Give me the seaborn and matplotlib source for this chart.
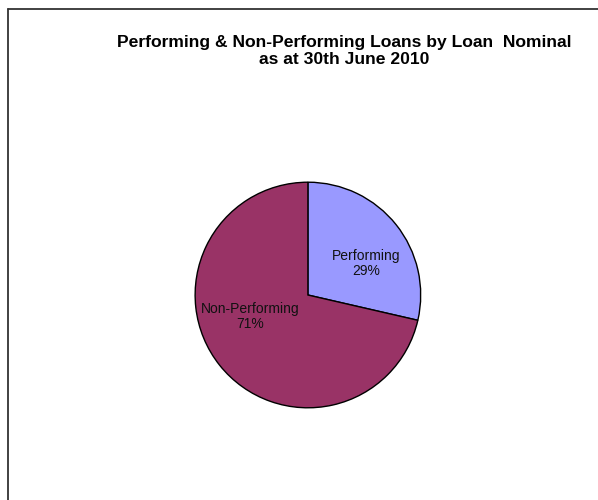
import seaborn as sns
import matplotlib.pyplot as plt
from matplotlib.lines import Line2D

# data
categories = ['Performing', 'Non-Performing']
shares = [28.6, 71.4]
colors = ['#9999FF', '#993366']

sns.set_theme(style='white')
plt.rcParams['font.family'] = ['Liberation Sans', 'DejaVu Sans']

fig = plt.figure(figsize=(5.98, 5.0), dpi=100)
fig.patch.set_facecolor('white')

# pie axes (square, centred where the original chart sits)
ax = fig.add_axes([0.3244, 0.182, 0.381, 0.456])
wedges, texts, autotexts = ax.pie(
    shares, colors=colors, startangle=90, counterclock=False,
    labels=None, autopct='%.0f%%', pctdistance=0.57,
    wedgeprops=dict(edgecolor='black', linewidth=1.0),
    textprops=dict(fontsize=10, color='#111111'))
ax.set_aspect('equal')
ax.set_xlim(-1.01, 1.01)
ax.set_ylim(-1.01, 1.01)

# put category name above the percentage, like the Excel labels
label_pos = [(0.52, 0.28), (-0.51, -0.19)]
for t, name, pos in zip(autotexts, categories, label_pos):
    t.set_text(f'{name}\n{t.get_text()}')
    t.set_position(pos)
    t.set_ha('center')
    t.set_va('center')
    t.set_linespacing(1.15)

fig.text(0.575, 0.898, 'Performing & Non-Performing Loans by Loan  Nominal\nas at 30th June 2010',
         ha='center', va='center', fontsize=12.6, fontweight='bold', color='black',
         linespacing=1.2)

# chart frame (only top and left edges fall inside the image)
fig.add_artist(Line2D([8 / 598, 1.0], [1 - 9 / 500, 1 - 9 / 500], color='#333333', linewidth=1.3))
fig.add_artist(Line2D([8 / 598, 8 / 598], [0.0, 1 - 9 / 500], color='#333333', linewidth=1.3))

fig.savefig('out.png', dpi=100, facecolor='white')
